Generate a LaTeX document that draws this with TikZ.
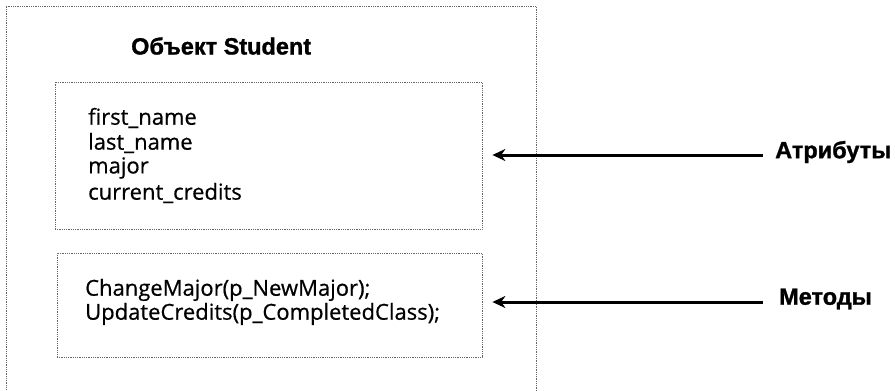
\documentclass[tikz,border=0pt]{standalone}
\usepackage{fontspec}
\setmainfont{Open Sans}[FakeBold=0.6]
\newfontfamily\headfont{Liberation Sans}[BoldFeatures={FakeBold=1.2}]
\usetikzlibrary{arrows.meta}

\tikzset{
  frameline/.style={line width=0.8pt, black!60, densely dotted},
  boxframe/.style={draw=black!60, line width=0.8pt, densely dotted, rectangle, inner sep=0pt},
  member/.style={anchor=west, inner sep=0pt, font=\fontsize{22}{26}\selectfont, align=left},
  heading/.style={anchor=west, inner sep=0pt, font=\headfont\bfseries\fontsize{23.5}{28}\selectfont},
  pointer/.style={line width=3pt, -{Stealth[length=13pt,width=12pt]}}
}

\begin{document}
\begin{tikzpicture}[x=1pt,y=-1pt]
  \useasboundingbox (0,0) rectangle (895,391);

  % outer frame of the object (runs off the lower edge)
  \coordinate (olb) at (6,395);
  \coordinate (olt) at (6,6);
  \coordinate (ort) at (536,6);
  \coordinate (orb) at (536,395);
  \draw[frameline] (olb) -- (olt) -- (ort) -- (orb);

  \node[heading] (title) at (131,46) {Объект Student};

  % attribute block
  \node[boxframe, minimum width=427pt, minimum height=147pt] (attrs) at (268.5,155.5) {};
  \node[member] (a1) at (88,118) {first\_name};
  \node[member] (a2) at (88,143) {last\_name};
  \node[member] (a3) at (88,168) {major};
  \node[member] (a4) at (88,193) {current\_credits};

  % method block
  \node[boxframe, minimum width=425pt, minimum height=104pt] (meths) at (269.5,305) {};
  \node[member] (m1) at (85,290) {ChangeMajor(p\_NewMajor);};
  \node[member] (m2) at (85,314) {UpdateCredits(p\_CompletedClass);};

  % side labels with arrows pointing at the blocks
  \node[heading] (attrlabel) at (775,152) {Атрибуты};
  \node[heading] (methlabel) at (779,299) {Методы};

  \coordinate (attrtip) at ([xshift=10pt]attrs.east |- 0,155);
  \coordinate (methtip) at ([xshift=10pt]meths.east |- 0,302);
  \draw[pointer] ([xshift=-12pt]attrlabel.west |- attrtip) -- (attrtip);
  \draw[pointer] ([xshift=-16pt]methlabel.west |- methtip) -- (methtip);
\end{tikzpicture}
\end{document}
